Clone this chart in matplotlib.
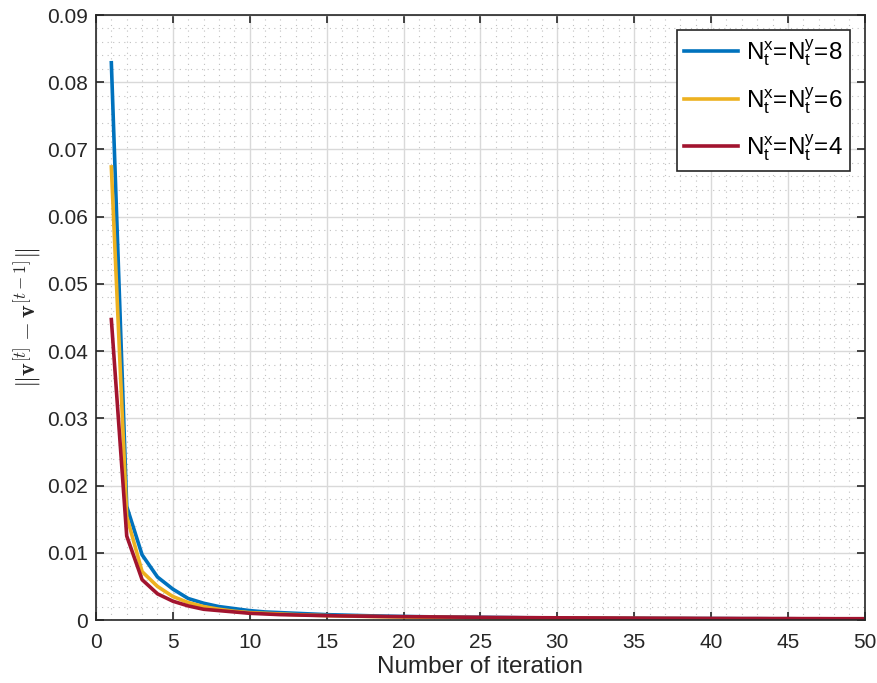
import matplotlib
matplotlib.use('Agg')
import matplotlib.pyplot as plt
import numpy as np

plt.rcParams['font.family'] = ['Liberation Sans', 'DejaVu Sans']
plt.rcParams['mathtext.fontset'] = 'custom'
plt.rcParams['mathtext.rm'] = 'Liberation Sans'
plt.rcParams['mathtext.it'] = 'Liberation Sans:italic'
plt.rcParams['mathtext.bf'] = 'Liberation Sans:bold'

# Iteration index
iterations = list(range(1, 51))

# ||v[t] - v[t-1]|| for the three grid sizes
res_8 = [0.0829, 0.0169, 0.0097, 0.0064, 0.0046, 0.0032, 0.0025, 0.0020, 0.0017, 0.0014,
         0.0012, 0.0011, 0.0010, 0.0009, 0.0008, 0.00074, 0.00068, 0.00062, 0.00057, 0.00053,
         0.00050, 0.00047, 0.00044, 0.00042, 0.00040, 0.00038, 0.00036, 0.00034, 0.00033, 0.00031,
         0.00030, 0.00029, 0.00028, 0.00027, 0.00026, 0.00025, 0.00024, 0.00023, 0.00022, 0.00022,
         0.00021, 0.00020, 0.00020, 0.00019, 0.00019, 0.00018, 0.00018, 0.00017, 0.00017, 0.00016]
res_6 = [0.0674, 0.0154, 0.0072, 0.0050, 0.0035, 0.0026, 0.0020, 0.0016, 0.0013, 0.0011,
         0.0010, 0.0009, 0.0008, 0.00072, 0.00066, 0.00061, 0.00056, 0.00052, 0.00048, 0.00045,
         0.00042, 0.00040, 0.00038, 0.00036, 0.00034, 0.00032, 0.00031, 0.00029, 0.00028, 0.00027,
         0.00026, 0.00025, 0.00024, 0.00023, 0.00022, 0.00021, 0.00021, 0.00020, 0.00019, 0.00019,
         0.00018, 0.00018, 0.00017, 0.00017, 0.00016, 0.00016, 0.00015, 0.00015, 0.00015, 0.00014]
res_4 = [0.0447, 0.0125, 0.0060, 0.0039, 0.0028, 0.0021, 0.0016, 0.0014, 0.0012, 0.0010,
         0.0009, 0.0008, 0.00075, 0.00070, 0.00065, 0.00061, 0.00058, 0.00055, 0.00052, 0.00050,
         0.00048, 0.00046, 0.00044, 0.00042, 0.00040, 0.00038, 0.00037, 0.00035, 0.00034, 0.00033,
         0.00032, 0.00031, 0.00030, 0.00029, 0.00028, 0.00027, 0.00026, 0.00026, 0.00025, 0.00024,
         0.00024, 0.00023, 0.00023, 0.00022, 0.00022, 0.00021, 0.00021, 0.00020, 0.00020, 0.00020]

labels = [r'N$^{\rm x}_{\rm t}$=N$^{\rm y}_{\rm t}$=8',
          r'N$^{\rm x}_{\rm t}$=N$^{\rm y}_{\rm t}$=6',
          r'N$^{\rm x}_{\rm t}$=N$^{\rm y}_{\rm t}$=4']
colors = ['#0072BD', '#EDB120', '#A2142F']

fig = plt.figure(figsize=(8.78, 6.83), dpi=100)
ax = fig.add_axes([0.1093, 0.0922, 0.8757, 0.8858])

for series, lab, col in zip([res_8, res_6, res_4], labels, colors):
    ax.plot(iterations, series, color=col, linewidth=2.6, label=lab)

ax.set_xlim(0, 50)
ax.set_ylim(0, 0.09)
ax.set_xticks(np.arange(0, 51, 5))
ax.set_yticks(np.arange(0, 0.091, 0.01))
ax.set_yticklabels(['0'] + ['%.2f' % v for v in np.arange(0.01, 0.091, 0.01)])
ax.set_xticks(np.arange(0, 51, 1), minor=True)
ax.set_yticks(np.arange(0, 0.0901, 0.002), minor=True)

ax.grid(which='major', color='#d9d9d9', linewidth=1.0, linestyle='-')
ax.grid(which='minor', color='#c0c0c0', linewidth=0.8, linestyle=(0, (1, 4)))
ax.set_axisbelow(True)

ax.tick_params(which='major', direction='in', length=6, width=1.2, labelsize=15,
               top=True, right=True, colors='#262626')
ax.tick_params(axis='y', which='major', pad=6)
ax.tick_params(axis='x', which='major', pad=9)
ax.tick_params(which='minor', length=0, top=True, right=True)
for sp in ax.spines.values():
    sp.set_color('#262626')
    sp.set_linewidth(1.2)

ax.set_xlabel('Number of iteration', fontsize=17.5, color='#262626', labelpad=3)
ax.set_ylabel(r'$\|\mathbf{v}^{[t]} - \mathbf{v}^{[t-1]}\|$', fontsize=17.5,
              color='#262626', labelpad=3, math_fontfamily='cm')

leg = ax.legend(loc='upper right', fontsize=17.5, frameon=True, fancybox=False,
                edgecolor='#262626', framealpha=1, handlelength=2.2,
                handletextpad=0.35, borderpad=0.3, labelspacing=0.7,
                borderaxespad=0.6)
leg.get_frame().set_linewidth(1.2)

fig.savefig('out.png', dpi=100)
